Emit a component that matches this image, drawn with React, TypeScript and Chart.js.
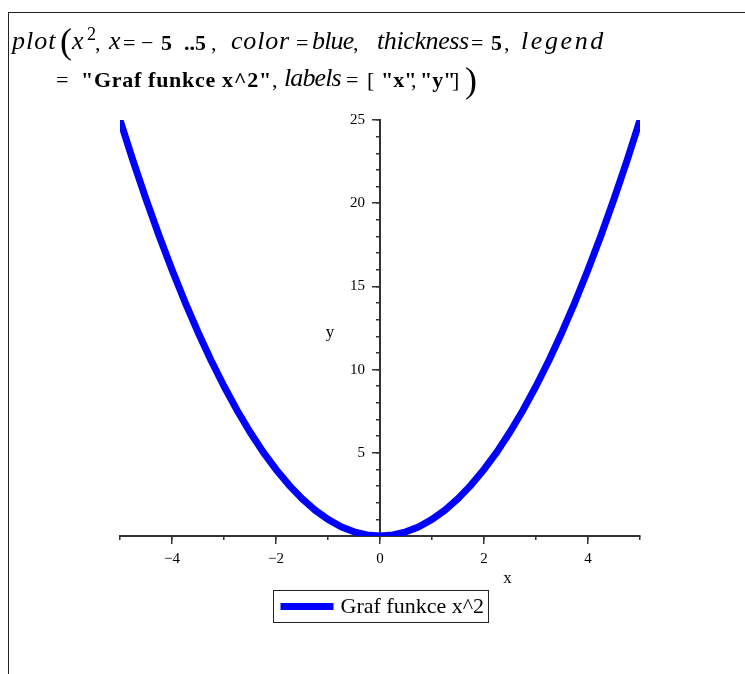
import React, { useEffect, useRef } from 'react';
import { Chart, registerables } from 'chart.js';

Chart.register(...registerables);

// ---- data ----
const xValues = [
  -5, -4.75, -4.5, -4.25, -4, -3.75, -3.5, -3.25, -3, -2.75, -2.5, -2.25, -2, -1.75, -1.5, -1.25, -1, -0.75, -0.5, -0.25,
  0, 0.25, 0.5, 0.75, 1, 1.25, 1.5, 1.75, 2, 2.25, 2.5, 2.75, 3, 3.25, 3.5, 3.75, 4, 4.25, 4.5, 4.75, 5,
];
const yValues = [
  25, 22.56, 20.25, 18.06, 16, 14.06, 12.25, 10.56, 9, 7.56, 6.25, 5.06, 4, 3.06, 2.25, 1.56, 1, 0.56, 0.25, 0.06,
  0, 0.06, 0.25, 0.56, 1, 1.56, 2.25, 3.06, 4, 5.06, 6.25, 7.56, 9, 10.56, 12.25, 14.06, 16, 18.06, 20.25, 22.56, 25,
];
const seriesLabel = 'Graf funkce x^2';
const xAxisTitle = 'x';
const yAxisTitle = 'y';
const xMin = -5;
const xMax = 5;
const yMin = 0;
const yMax = 25;
const xMajorEvery = 2;
const yMajorStep = 5;
const minorStep = 1;

const SERIF = '"Liberation Serif", "Times New Roman", serif';
const AXIS_COLOR = '#333333';

const fmt = (v: number) => (v < 0 ? '\u2212' + Math.abs(v) : String(v));

const extrasPlugin = {
  id: 'mapleExtras',
  afterDraw(chart: any) {
    const { ctx, chartArea: ca, scales } = chart;
    const ds = chart.data.datasets[0];
    const x0 = scales.x.getPixelForValue(0);
    const y0 = scales.y.getPixelForValue(0);
    ctx.save();
    ctx.fillStyle = '#000';
    ctx.font = `17px ${SERIF}`;
    ctx.textAlign = 'center';
    ctx.textBaseline = 'middle';
    ctx.fillText(xAxisTitle, scales.x.getPixelForValue(2.45), y0 + 43);
    ctx.fillText(yAxisTitle, x0 - 50, scales.y.getPixelForValue(12.2));

    // legend box
    ctx.font = `22px ${SERIF}`;
    const tw = ctx.measureText(ds.label).width;
    const padL = 7, sample = 53, gap = 7, padR = 5;
    const w = Math.round(padL + sample + gap + tw + padR);
    const h = 32;
    const left = Math.round((ca.left + ca.right) / 2 - w / 2) + 0.5;
    const top = Math.round(y0 + 54) + 0.5;
    ctx.strokeStyle = '#222';
    ctx.lineWidth = 1;
    ctx.strokeRect(left, top, w, h);
    ctx.strokeStyle = ds.borderColor;
    ctx.lineWidth = ds.borderWidth;
    ctx.lineCap = 'butt';
    ctx.beginPath();
    ctx.moveTo(left + padL, top + h / 2);
    ctx.lineTo(left + padL + sample, top + h / 2);
    ctx.stroke();
    ctx.textAlign = 'left';
    ctx.fillStyle = '#000';
    ctx.fillText(ds.label, left + padL + sample + gap, top + h / 2 + 1);
    ctx.restore();
  },
};

// one header token placed on a baseline (Liberation Serif: baseline = top + 0.8375 * size when line-height = size)
type TokProps = { x: number; base: number; size: number; text: string; italic?: boolean; bold?: boolean; ls?: number };
function Tok({ x, base, size, text, italic, bold, ls }: TokProps) {
  return (
    <span
      style={{
        position: 'absolute',
        left: x,
        top: base - 0.8375 * size,
        fontFamily: SERIF,
        fontSize: size,
        lineHeight: `${size}px`,
        fontStyle: italic ? 'italic' : 'normal',
        fontWeight: bold ? 'bold' : 'normal',
        letterSpacing: ls ? ls : 'normal',
        whiteSpace: 'pre',
        color: '#000',
      }}
    >
      {text}
    </span>
  );
}

const B1 = 50;
const B2 = 87;
const IT = 26;
const UP = 22;

export default function App() {
  const ref = useRef<HTMLCanvasElement | null>(null);

  useEffect(() => {
    if (!ref.current) return;
    const chart = new Chart(ref.current, {
      type: 'line',
      data: {
        datasets: [
          {
            label: seriesLabel,
            data: xValues.map((x, i) => ({ x, y: yValues[i] })),
            borderColor: '#0000ff',
            backgroundColor: '#0000ff',
            borderWidth: 7,
            borderCapStyle: 'butt',
            borderJoinStyle: 'round',
            tension: 0,
            pointRadius: 0,
            fill: false,
            xAxisID: 'x',
            yAxisID: 'y',
          } as any,
        ],
      },
      options: {
        responsive: false,
        animation: false,
        devicePixelRatio: 1,
        layout: { padding: { left: 120, right: 105, top: 120, bottom: 138 } },
        plugins: {
          legend: { display: false },
          tooltip: { enabled: false },
          title: { display: false },
        },
        scales: {
          x: {
            type: 'linear',
            position: { y: 0 } as any,
            min: xMin,
            max: xMax,
            afterBuildTicks: (s: any) => {
              s.ticks = s.ticks.filter((t: any) => Math.abs(t.value % xMajorEvery) < 1e-9);
            },
            ticks: {
              stepSize: minorStep,
              autoSkip: false,
              maxRotation: 0,
              padding: 7,
              color: '#000',
              font: { family: SERIF, size: 15 },
              callback: (v: any) => fmt(Number(v)),
            },
            grid: { drawOnChartArea: false, drawTicks: true, tickLength: 7, color: AXIS_COLOR, lineWidth: 1.5 },
            border: { display: true, color: AXIS_COLOR, width: 2 },
          },
          xMinor: {
            type: 'linear',
            axis: 'x',
            position: { y: 0 } as any,
            min: xMin,
            max: xMax,
            ticks: { stepSize: minorStep, display: false, autoSkip: false },
            grid: { drawOnChartArea: false, drawTicks: true, tickLength: 4, color: AXIS_COLOR, lineWidth: 1.5 },
            border: { display: false },
          },
          y: {
            type: 'linear',
            position: { x: 0 } as any,
            min: yMin,
            max: yMax,
            ticks: {
              stepSize: yMajorStep,
              autoSkip: false,
              padding: 7,
              color: '#000',
              font: { family: SERIF, size: 15 },
              // labels of a centred y axis are right-aligned on the axis line; trailing en spaces push them left of the ticks
              callback: (v: any) => (Number(v) === 0 ? '' : fmt(Number(v)) + '\u2002\u2002'),
            },
            grid: { drawOnChartArea: false, drawTicks: true, tickLength: 7, color: AXIS_COLOR, lineWidth: 1.5 },
            border: { display: true, color: AXIS_COLOR, width: 2 },
          },
          yMinor: {
            type: 'linear',
            axis: 'y',
            position: { x: 0 } as any,
            min: yMin,
            max: yMax,
            ticks: { stepSize: minorStep, display: false, autoSkip: false },
            grid: { drawOnChartArea: false, drawTicks: true, tickLength: 4, color: AXIS_COLOR, lineWidth: 1.5 },
            border: { display: false },
          },
        } as any,
      },
      plugins: [extrasPlugin],
    });
    return () => chart.destroy();
  }, []);

  return (
    <div style={{ position: 'absolute', left: 0, top: 0, width: 745, height: 674, background: '#fff', overflow: 'hidden' }}>
      <canvas ref={ref} width={745} height={674} style={{ position: 'absolute', left: 0, top: 0 }} />
      <div
        style={{
          position: 'absolute',
          left: 8,
          top: 12,
          width: 745,
          height: 700,
          borderTop: '1px solid #222',
          borderLeft: '1px solid #222',
          pointerEvents: 'none',
        }}
      />
      {/* line 1: plot(x^2, x=-5 ..5, color=blue, thickness=5, legend */}
      <Tok x={12} base={B1} size={IT} text="plot" italic ls={1} />
      <Tok x={60} base={53} size={36} text="(" />
      <Tok x={72} base={B1} size={IT} text="x" italic />
      <Tok x={87} base={40} size={18} text="2" />
      <Tok x={95} base={B1} size={UP} text="," />
      <Tok x={109} base={B1} size={IT} text="x" italic />
      <Tok x={123} base={B1} size={UP} text="=" />
      <Tok x={141} base={B1} size={UP} text={'\u2212'} />
      <Tok x={161} base={B1} size={UP} text="5" bold />
      <Tok x={184} base={B1} size={UP} text="..5" bold />
      <Tok x={211} base={B1} size={UP} text="," />
      <Tok x={231} base={B1} size={IT} text="color" italic ls={0.8} />
      <Tok x={296} base={B1} size={UP} text="=" />
      <Tok x={312} base={B1} size={IT} text="blue" italic ls={-0.8} />
      <Tok x={353} base={B1} size={UP} text="," />
      <Tok x={377} base={B1} size={IT} text="thickness" italic ls={-0.4} />
      <Tok x={471} base={B1} size={UP} text="=" />
      <Tok x={491} base={B1} size={UP} text="5" bold />
      <Tok x={504} base={B1} size={UP} text="," />
      <Tok x={521} base={B1} size={IT} text="legend" italic ls={2.6} />
      {/* line 2: = "Graf funkce x^2", labels = ["x", "y"]) */}
      <Tok x={56} base={B2} size={UP} text="=" />
      <Tok x={81} base={B2} size={UP} text={'"Graf funkce x^2"'} bold ls={0.7} />
      <Tok x={272} base={B2} size={UP} text="," />
      <Tok x={284} base={B2} size={IT} text="labels" italic ls={-0.9} />
      <Tok x={346} base={B2} size={UP} text="=" />
      <Tok x={367} base={B2} size={UP} text="[" />
      <Tok x={381} base={B2} size={UP} text={'"x"'} bold />
      <Tok x={411} base={B2} size={UP} text="," />
      <Tok x={420} base={B2} size={UP} text={'"y"'} bold />
      <Tok x={452} base={B2} size={UP} text="]" />
      <Tok x={465} base={92} size={36} text=")" />
    </div>
  );
}
